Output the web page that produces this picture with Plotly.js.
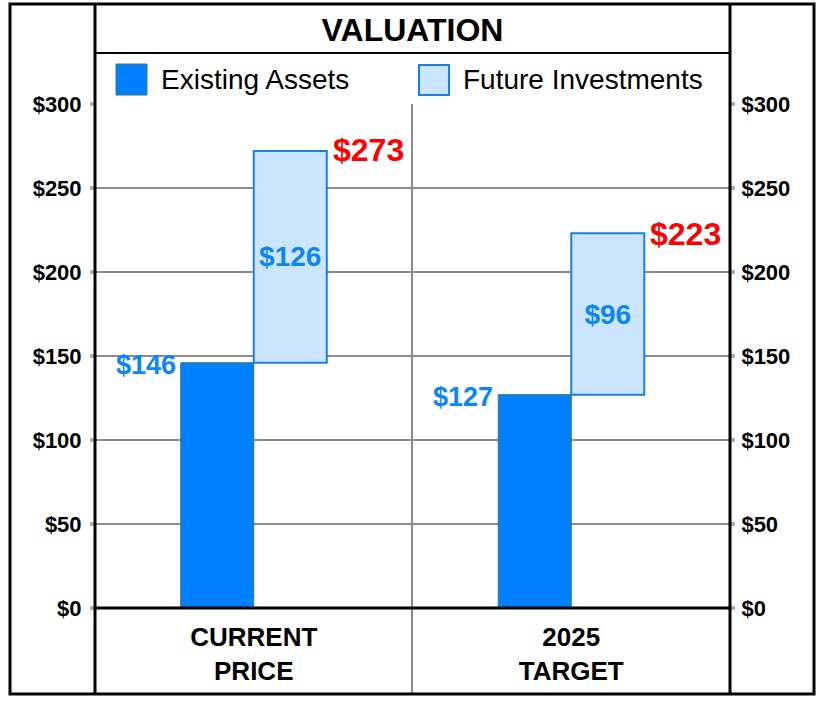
<!DOCTYPE html>
<html>
<head>
<meta charset="utf-8">
<script src="https://cdn.plot.ly/plotly-3.0.1.min.js"></script>
<style>html,body{margin:0;padding:0;background:#fff;}#chart{width:824px;height:704px;}</style>
</head>
<body>
<div id="chart"></div>
<script>
const categories = ['CURRENT<br>PRICE', '2025<br>TARGET'];
const seriesNames = ['Existing Assets', 'Future Investments'];
const existingAssets = [146, 127];
const futureInvestments = [126, 96];
const totals = [273, 223];
const tickValues = [0, 50, 100, 150, 200, 250, 300];
const tickLabels = ['$0', '$50', '$100', '$150', '$200', '$250', '$300'];

const FONT = 'Liberation Sans, Arial, Helvetica, sans-serif';
const BLUE = '#0080ff';
const LIGHT = '#cce5ff';
const LABEL_BLUE = '#0a86f5';

// pixel -> paper helpers (plot area: x 95..730, y 104..608)
const L = 95, R = 730, T = 104, B = 608;
const px = x => (x - L) / (R - L);
const py = y => (B - y) / (B - T);

const traces = [
  {
    type: 'bar', name: seriesNames[0], x: categories, y: existingAssets,
    marker: {color: BLUE, line: {color: '#3c7a68', width: 1}},
    hoverinfo: 'skip', showlegend: false
  },
  {
    type: 'bar', name: seriesNames[1], x: categories, y: futureInvestments,
    base: existingAssets,
    marker: {color: LIGHT, line: {color: '#1a7fe8', width: 2}},
    texttemplate: '$%{y}', textposition: 'inside', insidetextanchor: 'middle',
    constraintext: 'none', textangle: 0,
    textfont: {family: FONT, size: 28, color: LABEL_BLUE, weight: 'bold'},
    hoverinfo: 'skip', showlegend: false
  },
  {
    // carrier for the right-hand axis (draws nothing)
    type: 'scatter', mode: 'none', x: categories, y: totals, yaxis: 'y2',
    hoverinfo: 'skip', showlegend: false
  }
];

const annotations = [];
categories.forEach((c, i) => {
  annotations.push({
    xref: 'x', yref: 'y', x: i - 0.23, y: existingAssets[i],
    text: '$' + existingAssets[i], showarrow: false,
    xanchor: 'right', yanchor: 'middle', xshift: -3, yshift: -2,
    font: {family: FONT, size: 27, color: LABEL_BLUE, weight: 'bold'}
  });
  annotations.push({
    xref: 'x', yref: 'y', x: i + 0.23, y: totals[i],
    text: '$' + totals[i], showarrow: false,
    xanchor: 'left', yanchor: 'middle', xshift: 4, yshift: -1,
    font: {family: FONT, size: 32, color: '#ff0000', weight: 'bold'}
  });
});
// legend texts
annotations.push({
  xref: 'paper', yref: 'paper', x: px(159), y: py(80), text: seriesNames[0],
  showarrow: false, xanchor: 'left', yanchor: 'middle',
  font: {family: FONT, size: 28, color: '#000'}
});
annotations.push({
  xref: 'paper', yref: 'paper', x: px(461), y: py(80), text: seriesNames[1],
  showarrow: false, xanchor: 'left', yanchor: 'middle',
  font: {family: FONT, size: 28, color: '#000'}
});

const line = (x0, y0, x1, y1, color, width) => ({
  type: 'line', xref: 'paper', yref: 'paper',
  x0: px(x0), y0: py(y0), x1: px(x1), y1: py(y1),
  line: {color: color, width: width}
});

const shapes = [
  // divider between categories
  line(412, 104, 412, 694, '#8c8c8c', 2),
  // outer border
  {type: 'rect', xref: 'paper', yref: 'paper', x0: px(10), y0: py(4), x1: px(814), y1: py(694),
   line: {color: '#000', width: 3}},
  // inner verticals
  line(95, 4, 95, 694, '#000', 3),
  line(730, 4, 730, 694, '#000', 3),
  // title separator
  line(95, 53, 730, 53, '#000', 2),
  // zero line
  line(95, 608, 730, 608, '#000', 3),
  // legend swatches
  {type: 'rect', xref: 'paper', yref: 'paper', x0: px(116), y0: py(64), x1: px(147), y1: py(95),
   fillcolor: BLUE, line: {color: '#3c7a68', width: 1}},
  {type: 'rect', xref: 'paper', yref: 'paper', x0: px(419), y0: py(65), x1: px(449), y1: py(95),
   fillcolor: LIGHT, line: {color: '#1a7fe8', width: 2}}
];

const yTick = {family: FONT, size: 22, color: '#000', weight: 'bold'};

const layout = {
  width: 824, height: 704,
  margin: {l: L, r: 824 - R, t: T, b: 704 - B, pad: 0},
  paper_bgcolor: '#fff', plot_bgcolor: '#fff',
  title: {
    text: 'VALUATION', x: 0.5, xref: 'paper', xanchor: 'center',
    y: 1 - 30 / 704, yref: 'container', yanchor: 'middle',
    font: {family: FONT, size: 32, color: '#000', weight: 'bold'}
  },
  barmode: 'group', bargap: 0.54, bargroupgap: 0,
  xaxis: {
    type: 'category', range: [-0.5, 1.5], fixedrange: true,
    showgrid: false, zeroline: false, showline: false, ticks: '',
    tickfont: {family: FONT, size: 26, color: '#000', weight: 'bold'},
    ticklabelstandoff: 11
  },
  yaxis: {
    range: [0, 300], tickvals: tickValues, ticktext: tickLabels,
    showgrid: true, gridcolor: '#8c8c8c', gridwidth: 2,
    zeroline: false, showline: false,
    ticks: 'outside', ticklen: 4, tickwidth: 4, tickcolor: '#b0b0b0',
    ticklabelstandoff: 4,
    tickfont: yTick
  },
  yaxis2: {
    overlaying: 'y', side: 'right', range: [0, 300],
    tickvals: tickValues, ticktext: tickLabels,
    showgrid: false, zeroline: false, showline: false,
    ticks: 'outside', ticklen: 4, tickwidth: 4, tickcolor: '#b0b0b0',
    ticklabelstandoff: 2,
    tickfont: yTick
  },
  shapes: shapes,
  annotations: annotations,
  showlegend: false
};

Plotly.newPlot('chart', traces, layout, {displayModeBar: false, staticPlot: true});
</script>
</body>
</html>
